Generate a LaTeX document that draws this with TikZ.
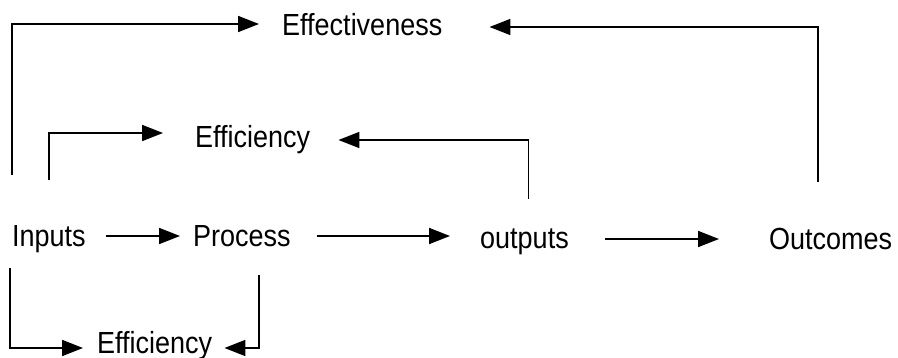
\documentclass[tikz,border=0pt]{standalone}
\usepackage{fontspec}
\setmainfont{Liberation Sans}
\usetikzlibrary{arrows.meta}
% labels are set slightly taller than the font's natural shape
\newcommand{\tallword}[1]{\scalebox{1}[1.13]{#1}}
\begin{document}
\begin{tikzpicture}[x=1pt,y=-1pt,
  label/.style={anchor=base west,inner sep=0pt,text height=22pt,text depth=0pt,
    font=\fontsize{27}{32}\selectfont},
  arr/.style={line width=1.8pt,-{Triangle[length=21pt,width=16pt]}}]
\useasboundingbox (0,0) rectangle (898,358);

% labels
\node[label] (eff)      at (282,36)  {\tallword{Effectiveness}};
\node[label] (effi1)    at (195,148) {\tallword{Efficiency}};
\node[label] (inputs)   at (12,247)  {\tallword{Inputs}};
\node[label] (process)  at (193,247) {\tallword{Process}};
\node[label] (outputs)  at (480,249) {\tallword{outputs}};
\node[label] (outcomes) at (769,250) {\tallword{Outcomes}};
\node[label] (effi2)    at (97,354)  {\tallword{Efficiency}};

% main chain
\draw[arr] ([xshift=20pt]inputs.east) -- ([xshift=-13pt]process.west);
\draw[arr] ([xshift=26pt]process.east) -- ([xshift=-30pt]outputs.west |- process.east);
\draw[arr] ([xshift=36pt,yshift=-1pt]outputs.east) -- ([xshift=-50pt,yshift=-1pt]outcomes.west |- outputs.east);

% effectiveness loops
\draw[arr] ([yshift=50pt]inputs.north west) |- ([xshift=-23pt,yshift=1pt]eff.west);
\draw[arr] ([xshift=-13pt,yshift=46pt]outcomes.north) |- ([xshift=47pt,yshift=-2pt]eff.east);

% upper efficiency loops
\draw[arr] ([yshift=45pt]inputs.north) |- ([xshift=-32pt,yshift=4pt]effi1.west);
\draw[arr] ([xshift=4pt,yshift=28pt]outputs.north) |- ([xshift=28pt,yshift=-3pt]effi1.east);

% lower efficiency loops
\draw[arr] ([xshift=-2pt,yshift=-21pt]inputs.south west) |- ([xshift=-14pt,yshift=-5pt]effi2.west);
\draw[arr] ([xshift=17pt,yshift=-28pt]process.south) |- ([xshift=12pt,yshift=-5pt]effi2.east);
\end{tikzpicture}
\end{document}
